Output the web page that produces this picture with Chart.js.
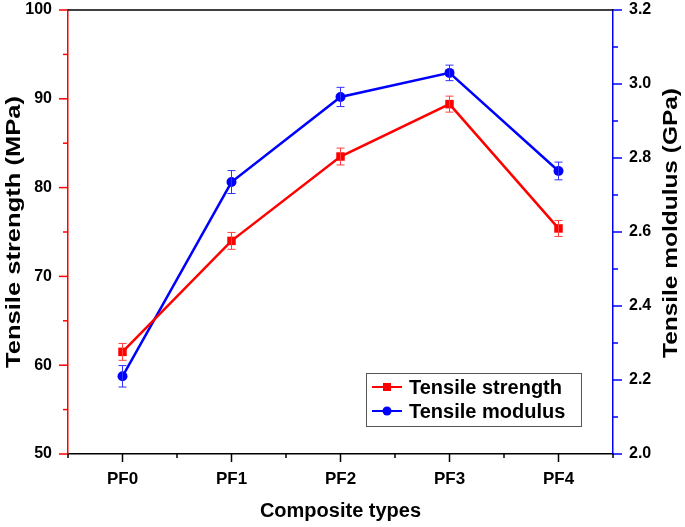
<!DOCTYPE html>
<html lang="en">
<head>
  <meta charset="UTF-8" />
  <title>Tensile properties</title>
  <script src="https://cdn.jsdelivr.net/npm/chart.js"></script>
  <style>
    body { margin: 0; background: #fff; }
    #wrap { width: 685px; height: 527px; }
  </style>
</head>
<body>
  <div id="wrap"><canvas id="chart" width="685" height="527"></canvas></div>

  <script>
    // data
    const categories = ['PF0', 'PF1', 'PF2', 'PF3', 'PF4'];
    const strength = [61.5, 74.0, 83.5, 89.4, 75.4];        // MPa
    const strengthErr = [0.95, 0.95, 0.95, 0.9, 0.9];
    const modulus = [2.21, 2.735, 2.965, 3.03, 2.765];       // GPa
    const modulusErr = [0.029, 0.031, 0.026, 0.021, 0.024];

    const FONT = '"Liberation Sans", Arial, sans-serif';
    const RED = '#ff0000';
    const BLUE = '#0000ff';

    // error bars, drawn from the data through the scales
    const errorBars = {
      id: 'errorBars',
      afterDatasetsDraw(chart) {
        const ctx = chart.ctx;
        const x = chart.scales.x;
        const sets = [
          { vals: strength, err: strengthErr, scale: chart.scales.y, color: '#ff4040' },
          { vals: modulus, err: modulusErr, scale: chart.scales.y2, color: '#3030ff' }
        ];
        ctx.save();
        ctx.lineWidth = 1;
        sets.forEach(s => {
          ctx.strokeStyle = s.color;
          s.vals.forEach((v, i) => {
            const px = x.getPixelForValue(i);
            const top = s.scale.getPixelForValue(v + s.err[i]);
            const bot = s.scale.getPixelForValue(v - s.err[i]);
            ctx.beginPath();
            ctx.moveTo(px, top); ctx.lineTo(px, bot);
            ctx.moveTo(px - 4, top); ctx.lineTo(px + 4, top);
            ctx.moveTo(px - 4, bot); ctx.lineTo(px + 4, bot);
            ctx.stroke();
          });
        });
        ctx.restore();
      }
    };

    // vertical title stretched along its length to the reference size
    function vTitle(ctx, text, cx, cy, len) {
      ctx.save();
      ctx.translate(cx, cy);
      ctx.rotate(-Math.PI / 2);
      const w = ctx.measureText(text).width;
      ctx.scale(len / w, 1);
      ctx.fillText(text, 0, 0);
      ctx.restore();
    }

    // axis ticks (major + minor), top frame, titles and legend
    const frame = {
      id: 'frame',
      afterDraw(chart) {
        const ctx = chart.ctx;
        const a = chart.chartArea;
        const x = chart.scales.x, y = chart.scales.y, y2 = chart.scales.y2;
        ctx.save();
        ctx.lineWidth = 1.5;

        // top frame line
        ctx.strokeStyle = '#000';
        ctx.beginPath();
        ctx.moveTo(a.left, a.top); ctx.lineTo(a.right, a.top);
        ctx.stroke();

        // left axis ticks
        ctx.strokeStyle = RED;
        for (let v = 50; v <= 100; v += 5) {
          const py = y.getPixelForValue(v);
          const len = v % 10 === 0 ? 9 : 5;
          ctx.beginPath(); ctx.moveTo(a.left - len, py); ctx.lineTo(a.left, py); ctx.stroke();
        }
        // right axis ticks
        ctx.strokeStyle = BLUE;
        for (let k = 0; k <= 12; k++) {
          const py = y2.getPixelForValue(2.0 + k * 0.1);
          const len = k % 2 === 0 ? 9 : 5;
          ctx.beginPath(); ctx.moveTo(a.right, py); ctx.lineTo(a.right + len, py); ctx.stroke();
        }
        // bottom axis ticks
        ctx.strokeStyle = '#000';
        categories.forEach((c, i) => {
          const px = x.getPixelForValue(i);
          ctx.beginPath(); ctx.moveTo(px, a.bottom); ctx.lineTo(px, a.bottom + 8); ctx.stroke();
        });
        for (let i = -0.5; i <= categories.length - 0.5; i += 1) {
          const px = x.getPixelForValue(i);
          ctx.beginPath(); ctx.moveTo(px, a.bottom); ctx.lineTo(px, a.bottom + 4); ctx.stroke();
        }

        // titles
        ctx.fillStyle = '#000';
        ctx.font = 'bold 20px ' + FONT;
        ctx.textAlign = 'center';
        ctx.textBaseline = 'middle';
        ctx.fillText('Composite types', (a.left + a.right) / 2, 511);
        vTitle(ctx, 'Tensile strength (MPa)', 14, 232, 272);
        vTitle(ctx, 'Tensile moldulus (GPa)', 671, 223, 270);

        // legend box
        const lx = 366, ly = 373, lw = 215, lh = 53;
        ctx.strokeStyle = '#555';
        ctx.lineWidth = 1;
        ctx.strokeRect(lx + 0.5, ly + 0.5, lw, lh);
        const items = [
          { label: chart.data.datasets[0].label, color: RED, shape: 'rect' },
          { label: chart.data.datasets[1].label, color: BLUE, shape: 'circle' }
        ];
        ctx.textAlign = 'left';
        ctx.font = 'bold 20px ' + FONT;
        items.forEach((it, i) => {
          const cy = ly + 14 + i * 24;
          ctx.strokeStyle = it.color;
          ctx.fillStyle = it.color;
          ctx.lineWidth = 2;
          ctx.beginPath(); ctx.moveTo(lx + 6, cy); ctx.lineTo(lx + 36, cy); ctx.stroke();
          if (it.shape === 'rect') {
            ctx.fillRect(lx + 21 - 4, cy - 4, 8, 8);
          } else {
            ctx.beginPath(); ctx.arc(lx + 21, cy, 4.5, 0, Math.PI * 2); ctx.fill();
          }
          ctx.fillStyle = '#000';
          ctx.fillText(it.label, lx + 43, cy + 1);
        });
        ctx.restore();
      }
    };

    const tickFont = { family: FONT, size: 16, weight: 'bold' };

    new Chart(document.getElementById('chart'), {
      type: 'line',
      data: {
        labels: categories,
        datasets: [
          {
            label: 'Tensile strength',
            data: strength,
            yAxisID: 'y',
            borderColor: RED,
            backgroundColor: RED,
            borderWidth: 2.5,
            pointStyle: 'rect',
            pointRadius: 6,
            pointBorderWidth: 0,
            tension: 0
          },
          {
            label: 'Tensile modulus',
            data: modulus,
            yAxisID: 'y2',
            borderColor: BLUE,
            backgroundColor: BLUE,
            borderWidth: 2.5,
            pointStyle: 'circle',
            pointRadius: 5,
            pointBorderWidth: 0,
            tension: 0
          }
        ]
      },
      options: {
        responsive: false,
        animation: false,
        layout: { padding: { top: 10, left: 0, right: 0, bottom: 0 } },
        plugins: {
          legend: { display: false },
          tooltip: { enabled: false }
        },
        scales: {
          x: {
            offset: true,
            grid: { display: false, drawTicks: false },
            border: { color: '#000', width: 1.5 },
            ticks: { color: '#000', padding: 15, font: { family: FONT, size: 17, weight: 'bold' } },
            afterFit: s => { s.height = 73; s.paddingLeft = 0; s.paddingRight = 0; }
          },
          y: {
            position: 'left',
            min: 50, max: 100,
            grid: { display: false, drawTicks: false },
            border: { color: RED, width: 1.5 },
            ticks: { stepSize: 10, color: '#000', padding: 16, font: tickFont },
            afterFit: s => { s.width = 68; s.paddingTop = 0; s.paddingBottom = 0; }
          },
          y2: {
            position: 'right',
            min: 2.0, max: 3.2,
            grid: { display: false, drawTicks: false },
            border: { color: BLUE, width: 1.5 },
            ticks: {
              stepSize: 0.2, color: '#000', padding: 16, font: tickFont,
              callback: v => Number(v).toFixed(1)
            },
            afterFit: s => { s.width = 72; s.paddingTop = 0; s.paddingBottom = 0; }
          }
        }
      },
      plugins: [errorBars, frame]
    });
  </script>
</body>
</html>
